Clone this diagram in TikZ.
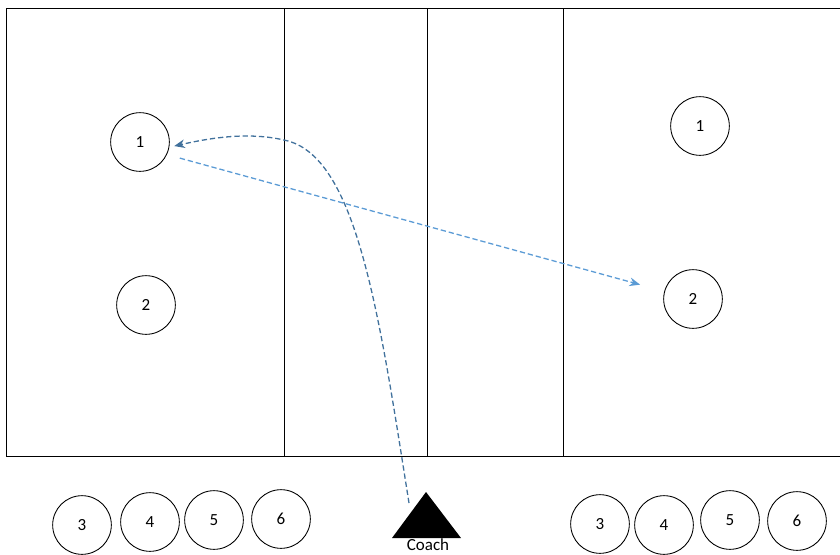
\documentclass[tikz,border=0pt]{standalone}
\usepackage{fontspec}
\setmainfont{Carlito}
\usetikzlibrary{arrows.meta}
\definecolor{PassBlue}{HTML}{5B9BD5}
\definecolor{RunBlue}{HTML}{41719C}

\begin{document}
\begin{tikzpicture}[x=0.03cm,y=-0.03cm,
  player/.style={draw,circle,line width=0.75pt,minimum size=1.76cm,inner sep=0pt,font=\fontsize{14.5}{16}\selectfont},
  pass/.style={PassBlue,line width=1.1pt,dash pattern=on 4.5pt off 2.5pt,-{Stealth[length=0.32cm,width=0.26cm]}},
  run/.style={RunBlue,line width=1.1pt,dash pattern=on 4.5pt off 2.5pt,-{Stealth[length=0.32cm,width=0.26cm]}}]
\path[use as bounding box] (0,0) rectangle (840,554);
% court
\draw[line width=0.6pt] (6,8) -- (842,8);
\draw[line width=0.6pt] (6,456) -- (842,456);
\draw[line width=0.6pt] (6,8) -- (6,456);
\draw[line width=0.6pt] (284,8) -- (284,456);
\draw[line width=0.6pt] (427,8) -- (427,456);
\draw[line width=0.6pt] (563,8) -- (563,456);
% players on court
\node[player] (l1) at (140,142) {1};
\node[player] (l2) at (146,305) {2};
\node[player] (r1) at (700,126) {1};
\node[player] (r2) at (693,299) {2};
% bench
\node[player] (l3) at (82,525) {3};
\node[player] (l4) at (150,522) {4};
\node[player] (l5) at (214,520) {5};
\node[player] (l6) at (281,519) {6};
\node[player] (r3) at (600,524) {3};
\node[player] (r4) at (664,525) {4};
\node[player] (r5) at (730,520) {5};
\node[player] (r6) at (797,521) {6};
% coach
\fill (392,538) -- (426,492) -- (461,538) -- cycle;
\node[font=\fontsize{14.5}{16}\selectfont,inner sep=0pt] (coach) at (428,545) {Coach};
\coordinate (cstart) at (409,503);
% movements
\draw[pass,shorten <=0.4cm,shorten >=0.75cm] (l1.-25) -- (r2.165);
\draw[run,shorten >=0.15cm] (cstart) .. controls (380,320) and (358,160) .. (288,141)
  .. controls (250,131) and (210,138) .. (l1.-10);
\end{tikzpicture}
\end{document}
